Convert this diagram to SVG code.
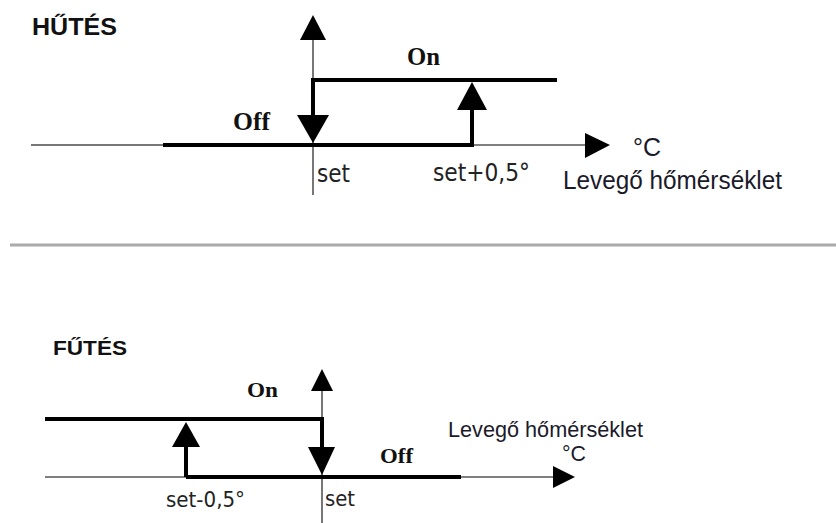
<svg xmlns="http://www.w3.org/2000/svg" width="836" height="523" viewBox="0 0 836 523">
<style>
.bg{fill:#ffffff}
.thin{stroke:#555;stroke-width:1.6;fill:none}
.thinl{stroke:#777;stroke-width:2;fill:none}
.thick{stroke:#000;stroke-width:4;fill:none}
.head{fill:#000}
.sep{stroke:#aaa;stroke-width:3}
.title{font-family:"Liberation Sans",Arial,sans-serif;font-weight:bold;fill:#111}
.state{font-family:"Liberation Serif","Times New Roman",serif;font-weight:bold;fill:#111}
.tick{font-family:"DejaVu Sans",Verdana,sans-serif;fill:#222}
.unit{font-family:"Liberation Sans",Arial,sans-serif;fill:#1a1a2a}
</style>
<rect class="bg" x="0" y="0" width="836" height="523"/>
<g id="cooling">
  <text class="title" x="32" y="35" font-size="23" textLength="85" lengthAdjust="spacingAndGlyphs">HŰTÉS</text>
  <g id="cooling-axes">
    <line class="thin" x1="313" y1="38" x2="313" y2="195"/>
    <polygon class="head" points="313,15 300,40 326,40"/>
    <line class="thinl" x1="31" y1="145" x2="165" y2="145"/>
    <line class="thin" x1="472" y1="145" x2="587" y2="145"/>
    <polygon class="head" points="610,145 585,133 585,158"/>
  </g>
  <g id="cooling-curve">
    <line class="thick" x1="163" y1="145" x2="474" y2="145"/>
    <polyline class="thick" points="313,117 313,80 557,80"/>
    <polygon class="head" points="313,143 297,115 329,115"/>
    <line class="thick" x1="472" y1="145" x2="472" y2="108"/>
    <polygon class="head" points="472,82 457,110 487,110"/>
  </g>
  <text class="state" x="407" y="65" font-size="25" textLength="33" lengthAdjust="spacingAndGlyphs">On</text>
  <text class="state" x="233" y="130" font-size="25" textLength="37" lengthAdjust="spacingAndGlyphs">Off</text>
  <text class="tick" x="317" y="182" font-size="24" textLength="33" lengthAdjust="spacingAndGlyphs">set</text>
  <text class="tick" x="433" y="181" font-size="24" textLength="97" lengthAdjust="spacingAndGlyphs">set+0,5°</text>
  <text class="unit" x="633" y="156" font-size="25" textLength="28" lengthAdjust="spacingAndGlyphs">°C</text>
  <text class="unit" x="563" y="189" font-size="25" textLength="219" lengthAdjust="spacingAndGlyphs">Levegő hőmérséklet</text>
</g>
<line id="separator" class="sep" x1="10" y1="245" x2="836" y2="245"/>
<g id="heating">
  <text class="title" x="53" y="355" font-size="21" textLength="74" lengthAdjust="spacingAndGlyphs">FŰTÉS</text>
  <g id="heating-axes">
    <line class="thin" x1="322" y1="388" x2="322" y2="523"/>
    <polygon class="head" points="322,369 311,391 333,391"/>
    <line class="thin" x1="45" y1="477" x2="188" y2="477"/>
    <line class="thin" x1="459" y1="477" x2="555" y2="477"/>
    <polygon class="head" points="575,477 553,466 553,488"/>
  </g>
  <g id="heating-curve">
    <line class="thick" x1="186" y1="477" x2="461" y2="477"/>
    <polyline class="thick" points="45,419 322,419 322,450"/>
    <polygon class="head" points="322,475 308,447 335,447"/>
    <line class="thick" x1="186" y1="477" x2="186" y2="444"/>
    <polygon class="head" points="186,422 172,447 200,447"/>
  </g>
  <text class="state" x="247" y="397" font-size="22" textLength="31" lengthAdjust="spacingAndGlyphs">On</text>
  <text class="state" x="380" y="463" font-size="22" textLength="33" lengthAdjust="spacingAndGlyphs">Off</text>
  <text class="tick" x="166" y="507" font-size="22" textLength="79" lengthAdjust="spacingAndGlyphs">set-0,5°</text>
  <text class="tick" x="325" y="506" font-size="22" textLength="30" lengthAdjust="spacingAndGlyphs">set</text>
  <text class="unit" x="448" y="437" font-size="22" textLength="195" lengthAdjust="spacingAndGlyphs">Levegő hőmérséklet</text>
  <text class="unit" x="562" y="461" font-size="22" textLength="24" lengthAdjust="spacingAndGlyphs">°C</text>
</g>
</svg>
